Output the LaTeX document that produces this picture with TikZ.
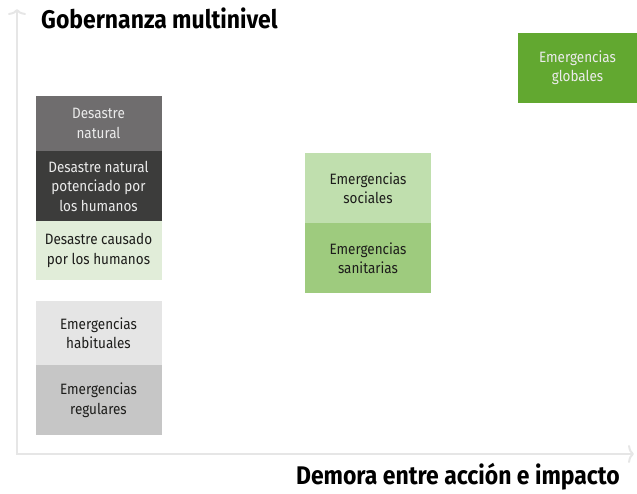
\documentclass[tikz,border=0pt]{standalone}
\usepackage{fontspec}
\setmainfont[FakeStretch=0.9]{Fira Sans}
\usetikzlibrary{arrows.meta}
\definecolor{axisgray}{HTML}{E6E6E6}
\definecolor{cA}{HTML}{6F6D6E}
\definecolor{cB}{HTML}{3C3C3B}
\definecolor{cC}{HTML}{E1EDD9}
\definecolor{cD}{HTML}{E5E5E5}
\definecolor{cE}{HTML}{C6C6C6}
\definecolor{cF}{HTML}{C0DFAE}
\definecolor{cG}{HTML}{9ECB7E}
\definecolor{cH}{HTML}{62A830}
\definecolor{txtdark}{HTML}{1D1D1B}
\begin{document}
\begin{tikzpicture}[x=1pt,y=-1pt,
  box/.style={minimum width=126pt,inner sep=0pt,align=center,font=\fontsize{15}{19.5}\selectfont,text=txtdark},
  lighttext/.style={text=white!92!black},
  axislabel/.style={font=\fontsize{25.5}{30}\selectfont\bfseries,text=black,inner sep=0pt},
  axisline/.style={draw=axisgray,line width=2pt,-{To[length=6pt,width=18pt]}}]
\useasboundingbox (0,0) rectangle (637,494);
\coordinate (origin) at (17,454);
\coordinate (ytop) at (17,9);
\coordinate (xend) at (634,454);
\draw[axisline] (17,455) -- (ytop);
\draw[axisline] (16,454) -- (xend);
\node[axislabel,anchor=base west] (ylab) at (41,29) {Gobernanza multinivel};
\node[axislabel,anchor=base east] (xlab) at (620,484) {Demora entre acción e impacto};
% left column
\node[box,fill=cA,lighttext,minimum height=55pt] (dn) at (98.5,123.5) {Desastre\\natural};
\node[box,fill=cB,lighttext,minimum height=70pt] (dnp) at (98.5,186) {Desastre natural\\potenciado por\\los humanos};
\node[box,fill=cC,minimum height=59pt] (dc) at (98.5,250.5) {Desastre causado\\por los humanos};
\node[box,fill=cD,minimum height=64pt] (eh) at (98.5,333) {Emergencias\\habituales};
\node[box,fill=cE,minimum height=70pt] (er) at (98.5,400) {Emergencias\\regulares};
% middle column
\node[box,fill=cF,minimum height=70pt] (es) at (368,188) {Emergencias\\sociales};
\node[box,fill=cG,minimum height=70pt] (esa) at (368,258) {Emergencias\\sanitarias};
% right
\node[box,fill=cH,lighttext,minimum width=119pt,minimum height=70pt] (eg) at (577.5,68) {Emergencias\\globales};
\end{tikzpicture}
\end{document}
